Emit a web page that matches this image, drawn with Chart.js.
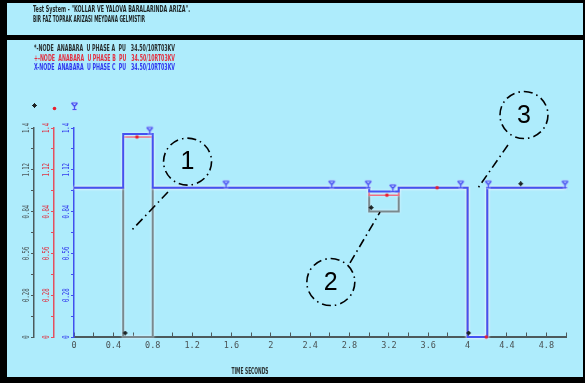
<!DOCTYPE html>
<html>
<head>
<meta charset="utf-8">
<script src="https://cdn.jsdelivr.net/npm/chart.js@4.4.1/dist/chart.umd.min.js"></script>
<style>
  html, body { margin: 0; padding: 0; background: #000; overflow: hidden; }
  canvas { display: block; }
</style>
</head>
<body>
<canvas id="plot" width="585" height="383"></canvas>
<script>
// Per-unit voltage of the three phases at bus ANABARA during the fault study.
// Each curve is piecewise constant: the value holds from its segment start to the next one.
const segmentStart = [0, 0.5, 0.8, 3.0, 3.3, 4.0, 4.2];
const endTime = 5.0;
const phaseA = [1.0, 0.0, 1.0, 0.84, 1.0, 0.0, 1.0];
const phaseB = [1.0, 1.34, 1.0, 0.95, 1.0, 0.0, 1.0];
const phaseC = [1.0, 1.36, 1.0, 0.975, 1.0, 0.0, 1.0];

// Instants (s) where each curve carries its plot symbol
const markTimesA = [0.52, 3.02, 4.01, 4.54];
const markTimesB = [0.64, 3.18, 3.69, 4.19];
const markTimesC = [0.77, 1.545, 2.62, 2.99, 3.24, 3.93, 4.21, 4.99];

// Axis labels
const timeLabels = [0, 0.4, 0.8, 1.2, 1.6, 2, 2.4, 2.8, 3.2, 3.6, 4, 4.4, 4.8];
const voltLabels = [0, 0.28, 0.56, 0.84, 1.12, 1.4];

const titleLines = [
  'Test System - "KOLLAR VE YALOVA BARALARINDA ARIZA".',
  'BIR FAZ TOPRAK ARIZASI MEYDANA GELMISTIR'
];
const legendLines = [
  '*-NODE  ANABARA  U PHASE A  PU   34.50/10RT03KV',
  '+-NODE  ANABARA  U PHASE B  PU   34.50/10RT03KV',
  'X-NODE  ANABARA  U PHASE C  PU   34.50/10RT03KV'
];
const timeTitle = 'TIME SECONDS';

// Numbered callouts: circle centre and leader line, in (time, pu) units
const calloutNumbers = ['1', '2', '3'];
const calloutCentre = [[1.154, 1.175], [2.61, 0.368], [4.573, 1.487]];
const calloutLeader = [
  [[0.955, 0.971], [0.589, 0.717]],
  [[2.805, 0.496], [3.11, 0.837]],
  [[4.41, 1.286], [4.106, 0.998]]
];

const COL_A = '#7a898e', AXIS_A = '#4c5a5c', TEXT_A = '#2a2f30';
const COL_B = '#ef6d80', AXIS_B = '#e4505f', TEXT_B = '#e23040';
const COL_C = '#4252f2', AXIS_C = '#4050ef', TEXT_C = '#3038ee';
const PANEL = '#aeecfc';

function stepPoints(values) {
  const pts = segmentStart.map((t, i) => ({ x: t, y: values[i] }));
  pts.push({ x: endTime, y: values[values.length - 1] });
  return pts;
}
function valueAt(values, t) {
  let k = 0;
  for (let i = 0; i < segmentStart.length; i++) if (segmentStart[i] <= t) k = i;
  return values[k];
}
function markPoints(values, times) {
  return times.map(t => ({ x: t, y: valueAt(values, t) }));
}

function glyph(w, h, paint) {
  const c = document.createElement('canvas');
  c.width = w; c.height = h;
  paint(c.getContext('2d'));
  return c;
}
// Symbols sit just above the curve, as in the plotting package
const symA = glyph(9, 13, g => {
  g.fillStyle = '#1d2526';
  g.fillRect(3, 1, 3, 3);
  g.fillRect(4, 0, 1, 5);
  g.fillRect(2, 2, 5, 1);
});
const symB = glyph(7, 7, g => {
  g.fillStyle = '#e8202e';
  g.beginPath(); g.arc(3.5, 3.5, 1.8, 0, Math.PI * 2); g.fill();
});
const symC = glyph(11, 17, g => {
  g.strokeStyle = 'rgba(190,200,255,0.9)';
  g.lineWidth = 2.6;
  const path = () => {
    g.beginPath();
    g.moveTo(2.5, 2); g.lineTo(8.5, 2);
    g.moveTo(2.5, 2); g.lineTo(5.5, 5.5); g.lineTo(8.5, 2);
    g.moveTo(5.5, 5.5); g.lineTo(5.5, 8.5);
    g.moveTo(3.5, 8.5); g.lineTo(7.5, 8.5);
    g.stroke();
  };
  path();
  g.strokeStyle = '#4656f0';
  g.lineWidth = 1.2;
  path();
});

const framePlugin = {
  id: 'frame',
  beforeDraw(chart) {
    const ctx = chart.ctx;
    ctx.save();
    ctx.fillStyle = '#000';
    ctx.fillRect(0, 0, chart.width, chart.height);
    ctx.fillStyle = PANEL;
    ctx.fillRect(7, 3, 576, 32);
    ctx.fillRect(7, 40, 576, 337);
    ctx.restore();
  }
};

const glowPlugin = {
  id: 'glow',
  beforeDatasetDraw(chart, args) {
    if (!args.meta.dataset || chart.data.datasets[args.index].showLine === false) return;
    const ctx = chart.ctx;
    ctx.save();
    ctx.shadowColor = 'rgba(235,245,255,0.9)';
    ctx.shadowBlur = 2.5;
  },
  afterDatasetDraw(chart, args) {
    if (!args.meta.dataset || chart.data.datasets[args.index].showLine === false) return;
    chart.ctx.restore();
  }
};

const textPlugin = {
  id: 'texts',
  afterDraw(chart) {
    const ctx = chart.ctx;
    ctx.save();
    ctx.textBaseline = 'middle';
    ctx.textAlign = 'left';
    ctx.font = 'bold 8.5px "DejaVu Sans Condensed", "DejaVu Sans"';
    ctx.fillStyle = '#1e2424';
    ctx.fillText(titleLines[0], 33, 10, 157);
    ctx.fillText(titleLines[1], 33, 19.5, 112);

    const legendColours = [TEXT_A, TEXT_B, TEXT_C];
    legendLines.forEach((s, i) => {
      ctx.fillStyle = legendColours[i];
      ctx.fillText(s, 34, 49 + i * 9.5, 141);
    });

    ctx.fillStyle = '#2a3030';
    ctx.textAlign = 'center';
    ctx.fillText(timeTitle, 250, 372, 37);

    // rotated value labels and header symbols on the three voltage axes
    const axes = [['yA', '#4a5658', symA, 109], ['yB', TEXT_B, symB, 108], ['yC', TEXT_C, symC, 109]];
    ctx.font = '8.5px "DejaVu Sans Mono"';
    axes.forEach(([id, colour, sym, symY]) => {
      const sc = chart.scales[id];
      const ax = sc.right;
      ctx.fillStyle = colour;
      voltLabels.forEach(v => {
        const y = sc.getPixelForValue(v);
        ctx.save();
        ctx.translate(ax - 7, y);
        ctx.rotate(-Math.PI / 2);
        ctx.textAlign = 'center';
        ctx.fillText(String(v), 0, 0, String(v).length * 3.4);
        ctx.restore();
      });
      ctx.drawImage(sym, Math.round(ax - sym.width / 2), Math.round(symY - sym.height / 2));
    });
    ctx.restore();
  }
};

const calloutPlugin = {
  id: 'callouts',
  afterDatasetsDraw(chart) {
    const ctx = chart.ctx;
    const sx = chart.scales.x, sy = chart.scales.yC;
    ctx.save();
    ctx.strokeStyle = '#000';
    ctx.lineWidth = 1.6;
    ctx.setLineDash([9, 4, 1.5, 4]);
    calloutNumbers.forEach((n, i) => {
      const cx = sx.getPixelForValue(calloutCentre[i][0]);
      const cy = sy.getPixelForValue(calloutCentre[i][1]);
      ctx.beginPath();
      ctx.ellipse(cx, cy, 24, 23.5, 0, 0, Math.PI * 2);
      ctx.stroke();
      const [p0, p1] = calloutLeader[i];
      ctx.beginPath();
      ctx.moveTo(sx.getPixelForValue(p0[0]), sy.getPixelForValue(p0[1]));
      ctx.lineTo(sx.getPixelForValue(p1[0]), sy.getPixelForValue(p1[1]));
      ctx.stroke();
      ctx.fillStyle = '#000';
      ctx.font = '25px "Liberation Sans", Arial';
      ctx.textAlign = 'center';
      ctx.textBaseline = 'middle';
      ctx.fillText(n, cx, cy + 1);
    });
    ctx.restore();
  }
};

function voltAxis(weight, colour) {
  return {
    type: 'linear',
    position: 'left',
    weight: weight,
    min: 0,
    max: 1.4,
    afterFit(s) { s.width = 20; },
    ticks: { display: false, count: 11 },
    grid: { drawOnChartArea: false, drawTicks: true, tickLength: 3, color: colour, lineWidth: 1 },
    border: { display: true, color: colour, width: 1.5 }
  };
}

new Chart(document.getElementById('plot'), {
  type: 'line',
  data: {
    datasets: [
      { label: 'A marks', data: markPoints(phaseA, markTimesA), yAxisID: 'yA', showLine: false,
        pointStyle: symA, pointRadius: 4, clip: false, order: 0 },
      { label: 'B marks', data: markPoints(phaseB, markTimesB), yAxisID: 'yB', showLine: false,
        pointStyle: symB, pointRadius: 4, clip: false, order: 0 },
      { label: 'C marks', data: markPoints(phaseC, markTimesC), yAxisID: 'yC', showLine: false,
        pointStyle: symC, pointRadius: 4, clip: false, order: 0 },
      { label: 'PHASE C', data: stepPoints(phaseC), yAxisID: 'yC', stepped: true,
        borderColor: COL_C, borderWidth: 2, pointRadius: 0, fill: false, clip: 6, order: 1 },
      { label: 'PHASE B', data: stepPoints(phaseB), yAxisID: 'yB', stepped: true,
        borderColor: COL_B, borderWidth: 1.6, pointRadius: 0, fill: false, clip: 6, order: 2 },
      { label: 'PHASE A', data: stepPoints(phaseA), yAxisID: 'yA', stepped: true,
        borderColor: COL_A, borderWidth: 2, pointRadius: 0, fill: false, clip: 6, order: 3 }
    ]
  },
  options: {
    responsive: false,
    animation: false,
    devicePixelRatio: 1,
    layout: { padding: { left: 14, right: 19, top: 128, bottom: 26 } },
    plugins: {
      legend: { display: false },
      title: { display: false },
      tooltip: { enabled: false }
    },
    scales: {
      x: {
        type: 'linear',
        position: 'bottom',
        min: 0,
        max: endTime,
        afterFit(s) { s.height = 20; },
        grid: { drawOnChartArea: false, drawTicks: true, tickLength: -4.5, color: '#4c5a5c', lineWidth: 1 },
        border: { display: true, color: '#4c5a5c', width: 2 },
        ticks: {
          stepSize: 0.2,
          autoSkip: false,
          maxRotation: 0,
          padding: 8,
          color: '#4a5254',
          font: { family: 'DejaVu Sans Mono', size: 8.5 },
          callback(v) {
            const hit = timeLabels.find(t => Math.abs(t - v) < 1e-6);
            return hit === undefined ? '' : String(hit);
          }
        }
      },
      yC: voltAxis(0, AXIS_C),
      yB: voltAxis(1, AXIS_B),
      yA: voltAxis(2, AXIS_A)
    }
  },
  plugins: [framePlugin, glowPlugin, calloutPlugin, textPlugin]
});
</script>
</body>
</html>
